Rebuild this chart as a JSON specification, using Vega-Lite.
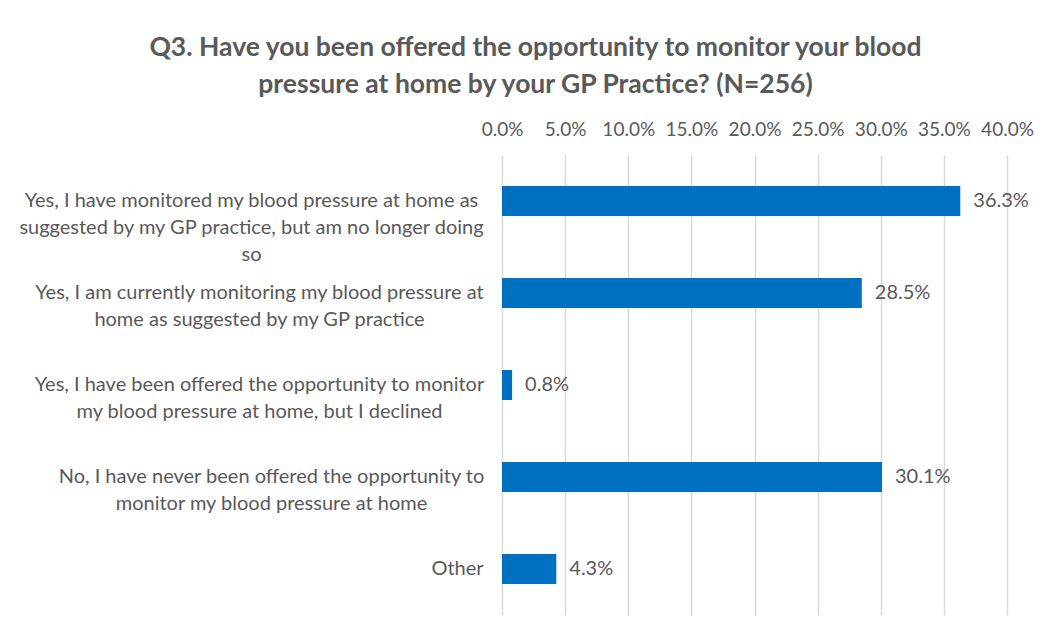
{
  "$schema": "https://vega.github.io/schema/vega-lite/v6.json",
  "width": 505,
  "height": 460,
  "autosize": {"type": "none"},
  "padding": {"left": 502, "top": 155, "right": 39, "bottom": 16},
  "background": "white",
  "title": {
    "text": ["Q3. Have you been offered the opportunity to monitor your blood", "pressure at home by your GP Practice? (N=256)"],
    "anchor": "middle",
    "frame": "group",
    "dx": -219,
    "offset": 22,
    "font": "Lato",
    "fontSize": 26.5,
    "fontWeight": "bold",
    "color": "#595959",
    "lineHeight": 37
  },
  "data": {
    "values": [
      {"answer": "Yes, I have monitored my blood pressure at home as\nsuggested by my GP practice, but am no longer doing\nso", "pct": 0.363},
      {"answer": "Yes, I am currently monitoring my blood pressure at\nhome as suggested by my GP practice", "pct": 0.285},
      {"answer": "Yes, I have been offered the opportunity to monitor\nmy blood pressure at home, but I declined", "pct": 0.008},
      {"answer": "No, I have never been offered the opportunity to\nmonitor my blood pressure at home", "pct": 0.301},
      {"answer": "Other", "pct": 0.043}
    ]
  },
  "encoding": {
    "y": {
      "field": "answer",
      "type": "nominal",
      "sort": null,
      "title": null,
      "scale": {"paddingInner": 0.674, "paddingOuter": 0.337},
      "axis": {
        "labelExpr": "split(datum.label, '\\n')",
        "labelAlign": "center",
        "labelPadding": {
          "condition": [
            {"test": "datum.value === 'Yes, I have monitored my blood pressure at home as\\nsuggested by my GP practice, but am no longer doing\\nso'", "value": 251},
            {"test": "datum.value === 'Yes, I am currently monitoring my blood pressure at\\nhome as suggested by my GP practice'", "value": 243},
            {"test": "datum.value === 'Yes, I have been offered the opportunity to monitor\\nmy blood pressure at home, but I declined'", "value": 243},
            {"test": "datum.value === 'No, I have never been offered the opportunity to\\nmonitor my blood pressure at home'", "value": 231}
          ],
          "value": 45
        },
        "labelLimit": 600,
        "labelLineHeight": 27,
        "labelFont": "Lato",
        "labelFontSize": 20,
        "labelColor": "#595959",
        "ticks": false,
        "tickSize": 0,
        "domain": false,
        "grid": false
      }
    },
    "x": {
      "field": "pct",
      "type": "quantitative",
      "title": null,
      "scale": {"domain": [0, 0.4]},
      "axis": {
        "orient": "top",
        "format": ".1%",
        "values": [0, 0.05, 0.1, 0.15, 0.2, 0.25, 0.3, 0.35, 0.4],
        "labelOverlap": false,
        "labelFlush": false,
        "labelFont": "Lato",
        "labelFontSize": 19,
        "labelColor": "#595959",
        "labelPadding": 16,
        "ticks": false,
        "tickSize": 0,
        "domain": false,
        "grid": true,
        "gridColor": "#D9D9D9",
        "gridWidth": 1.5
      }
    }
  },
  "layer": [
    {"mark": {"type": "bar", "color": "#0070C0"}},
    {
      "mark": {"type": "text", "align": "left", "baseline": "middle", "dx": 13, "font": "Lato", "fontSize": 20, "color": "#595959"},
      "encoding": {"text": {"field": "pct", "type": "quantitative", "format": ".1%"}}
    }
  ],
  "config": {"view": {"stroke": null}}
}
